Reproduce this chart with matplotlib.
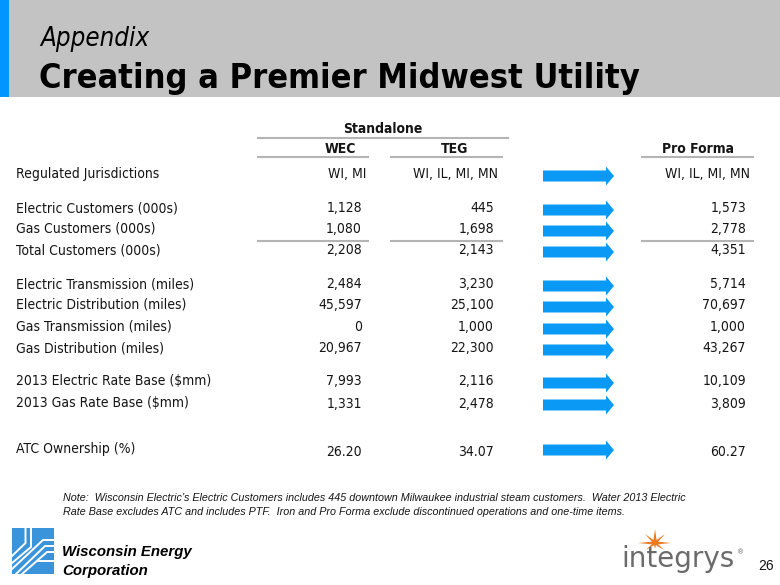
import matplotlib
matplotlib.use("Agg")
import matplotlib.pyplot as plt
from matplotlib.patches import Rectangle, FancyArrow, Polygon

# table content
row_labels = ["Regulated Jurisdictions",
              "Electric Customers (000s)", "Gas Customers (000s)", "Total Customers (000s)",
              "Electric Transmission (miles)", "Electric Distribution (miles)",
              "Gas Transmission (miles)", "Gas Distribution (miles)",
              "2013 Electric Rate Base ($mm)", "2013 Gas Rate Base ($mm)",
              "ATC Ownership (%)"]
wec = ["WI, MI", "1,128", "1,080", "2,208", "2,484", "45,597", "0", "20,967",
       "7,993", "1,331", "26.20"]
teg = ["WI, IL, MI, MN", "445", "1,698", "2,143", "3,230", "25,100", "1,000", "22,300",
       "2,116", "2,478", "34.07"]
pro_forma = ["WI, IL, MI, MN", "1,573", "2,778", "4,351", "5,714", "70,697", "1,000", "43,267",
             "10,109", "3,809", "60.27"]
col_heads = ["WEC", "TEG", "Pro Forma"]

note = ("Note:  Wisconsin Electric\u2019s Electric Customers includes 445 downtown Milwaukee industrial steam customers.  Water 2013 Electric\n"
        "Rate Base excludes ATC and includes PTF.  Iron and Pro Forma exclude discontinued operations and one-time items.")

# layout (pixels)
row_y = [174, 208, 229, 250, 284, 305, 327, 348, 381, 403, 449]
val_dy = [0, 0, 0, 0, 0, 0, 0, 0, 0, 1, 3]
blue = "#0a9af5"
line_c = "#b4b4b4"
txt = "#151515"
tfont = ["DejaVu Sans"]
tsize = 10

fig = plt.figure(figsize=(7.8, 5.85), dpi=100)
ax = fig.add_axes([0, 0, 1, 1])
ax.set_xlim(0, 780)
ax.set_ylim(585, 0)
ax.axis("off")

# header band
ax.add_patch(Rectangle((0, 0), 780, 97, color="#c3c3c3", lw=0))
ax.add_patch(Rectangle((0, 0), 9, 97, color="#0096ff", lw=0))
ax.text(40, 46, "Appendix", fontsize=18.5, style="italic", family=tfont,
        fontstretch="condensed", color="black")
ax.text(39, 88, "Creating a Premier Midwest Utility", fontsize=24.6, weight="bold",
        family=tfont, fontstretch="condensed", color="black")

# column headers
ax.text(383, 129, "Standalone", fontsize=tsize, weight="bold", ha="center", va="center",
        family=tfont, fontstretch="condensed", color=txt)
ax.plot([258, 508], [138, 138], color=line_c, lw=1.5)
head_x = [340, 455, 698]
spans = [(258, 368), (391, 502), (642, 753)]
for h, x, (a, b) in zip(col_heads, head_x, spans):
    ax.text(x, 149, h, fontsize=tsize, weight="bold", ha="center", va="center",
            family=tfont, fontstretch="condensed", color=txt)
    ax.plot([a, b], [157, 157], color=line_c, lw=1.5)
    ax.plot([a, b], [241, 241], color=line_c, lw=1.5)

right_x = [362, 494, 746]
for i, lab in enumerate(row_labels):
    y = row_y[i]
    ax.text(16, y, lab, fontsize=tsize, va="center", family=tfont,
            fontstretch="condensed", color=txt)
    for j, col in enumerate([wec, teg, pro_forma]):
        x = right_x[j] + (4 if i == 0 else 0)
        ax.text(x, y + val_dy[i], col[i], fontsize=tsize, ha="right", va="center",
                family=tfont, fontstretch="condensed", color=txt)
    ay = y + 2 if i < 10 else y + 1
    ax.add_patch(FancyArrow(543, ay, 71, 0, width=11, head_width=19, head_length=8,
                            length_includes_head=True, color=blue, lw=0))

# note
ax.text(63, 505, note, fontsize=7.75, style="italic", family=["Liberation Sans", "DejaVu Sans"],
        color=txt, va="center", linespacing=1.45)

# Wisconsin Energy logo
sq = Rectangle((12, 528), 42, 46, color="#3a94dc", lw=0)
ax.add_patch(sq)
paths = [([25.5, 25.5, 12], [528, 543, 556]),
         ([31, 31, 12], [528, 547, 563]),
         ([12, 43, 54], [569, 540, 540]),
         ([16, 45, 54], [574, 546, 546]),
         ([22, 47, 54], [574, 552, 552]),
         ([38, 54], [561, 561])]
for px, py in paths:
    ln, = ax.plot(px, py, color="white", lw=1.4)
    ln.set_clip_path(sq)
ax.text(62, 556, "Wisconsin Energy", fontsize=10.8, weight="bold", style="italic",
        family=["Liberation Sans", "DejaVu Sans"], color="black")
ax.text(62, 575, "Corporation", fontsize=10.8, weight="bold", style="italic",
        family=["Liberation Sans", "DejaVu Sans"], color="black")

# integrys logo
cx, cy = 655, 543
rays = [(0, -14, 2.0), (0, 6, 1.4), (-17, 0, 1.6), (16, 0, 1.6),
        (-10, -9, 1.5), (10, -9, 1.5), (-9, 7, 1.4), (9, 7, 1.4)]
for dx, dy, w in rays:
    L = (dx * dx + dy * dy) ** 0.5
    nx, ny = -dy / L * w, dx / L * w
    ax.add_patch(Polygon([[cx - nx, cy - ny], [cx + dx, cy + dy], [cx + nx, cy + ny]],
                         closed=True, color="#ec7a22", lw=0))
ax.text(621, 567, "integrys", fontsize=20, color="#6b6b6b", family=tfont)
ax.text(737, 554, "\u00ae", fontsize=5, color="#6b6b6b", family=tfont)
ax.text(758, 570, "26", fontsize=10, color=txt, family=["Liberation Sans", "DejaVu Sans"])

fig.savefig("out.png", dpi=100)
